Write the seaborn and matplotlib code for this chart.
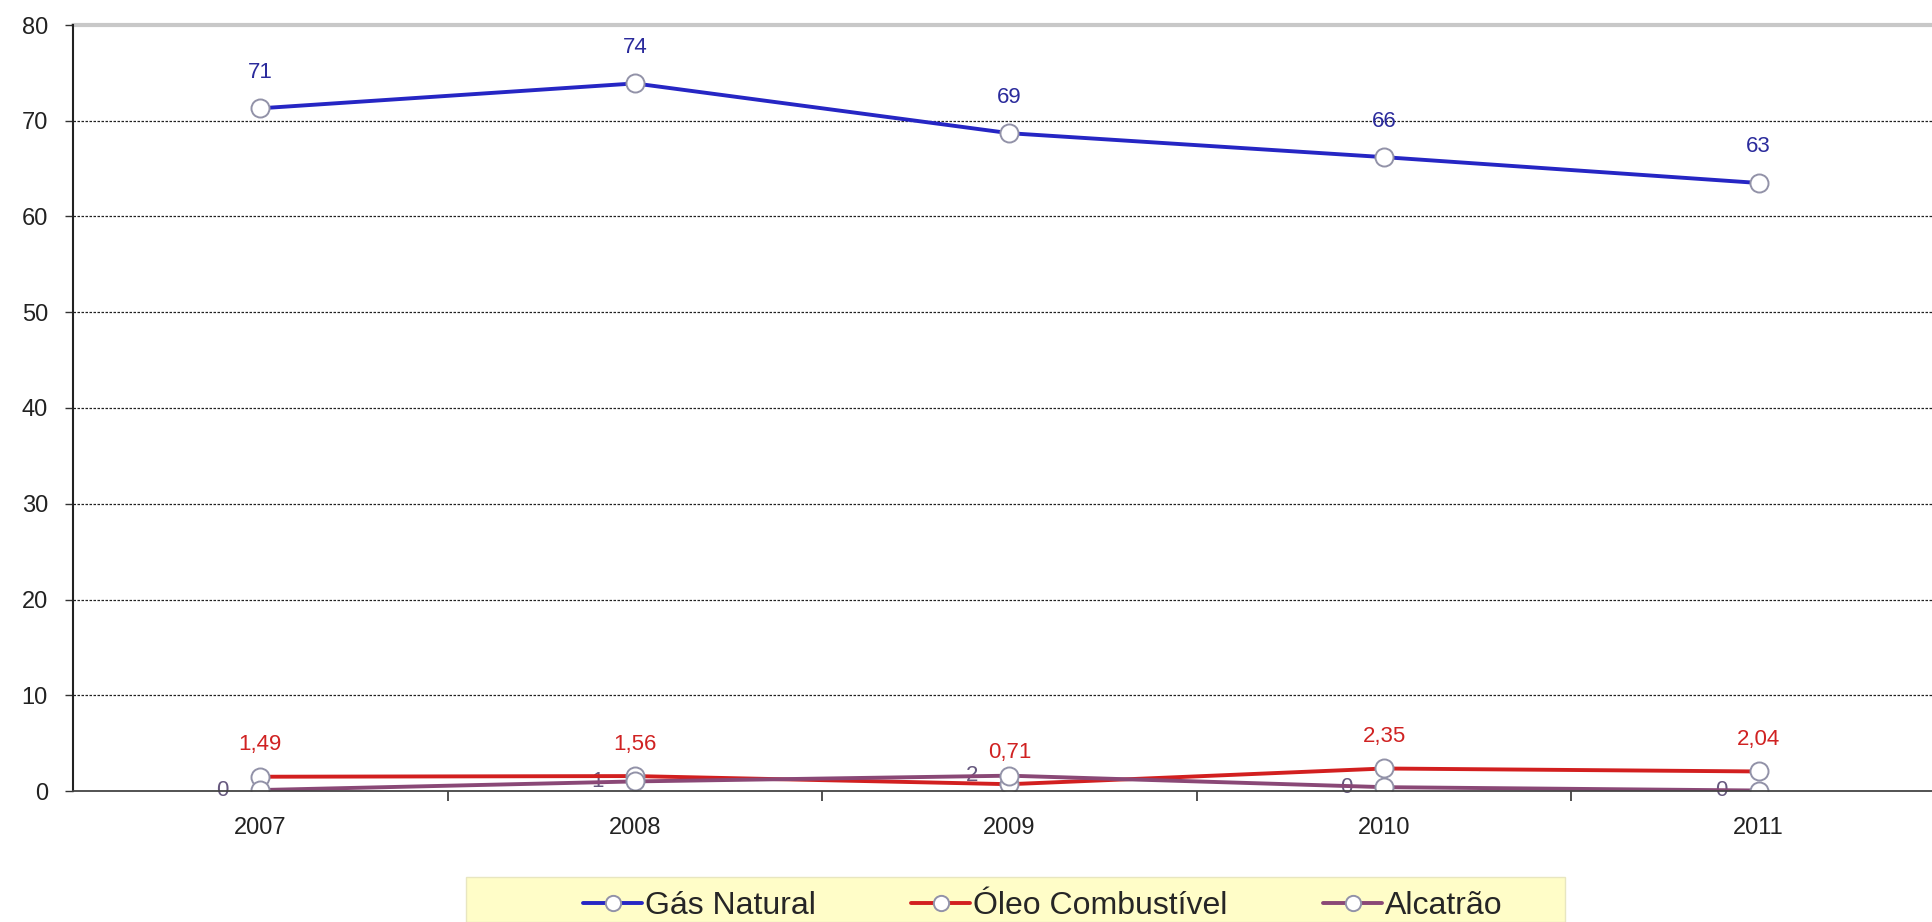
import matplotlib
matplotlib.use('Agg')
import matplotlib.pyplot as plt
from matplotlib.patches import Rectangle
import seaborn as sns
import pandas as pd

# ---- data ----
years = ['2007', '2008', '2009', '2010', '2011']
gas_natural = [71.3, 73.9, 68.7, 66.2, 63.5]
gas_labels = ['71', '74', '69', '66', '63']
oleo = [1.49, 1.56, 0.71, 2.35, 2.04]
oleo_labels = ['1,49', '1,56', '0,71', '2,35', '2,04']
alcatrao = [0.1, 1.0, 1.6, 0.4, 0.05]
alcatrao_labels = ['0', '1', '2', '0', '0']
series_names = ['Gás Natural', 'Óleo Combustível', 'Alcatrão']
yticks = [0, 10, 20, 30, 40, 50, 60, 70, 80]

line_colors = ['#2626c4', '#d21f1f', '#8a4876']
label_colors = ['#2b2b9c', '#d02222', '#66587e']

sns.set_theme(style='white')
plt.rcParams['font.family'] = ['Liberation Sans', 'DejaVu Sans']

W, H = 1933, 922
fig = plt.figure(figsize=(W / 100, H / 100), dpi=100)
ax_left, ax_right = 73, 1946
ax_bottom, ax_top = 131, 897
ax = fig.add_axes([ax_left / W, ax_bottom / H, (ax_right - ax_left) / W, (ax_top - ax_bottom) / H])

all_values = [gas_natural, oleo, alcatrao]
rows = []
for name, vals in zip(series_names, all_values):
    for i, v in enumerate(vals):
        rows.append({'idx': i, 'value': v, 'series': name})
df = pd.DataFrame(rows)

sns.lineplot(data=df, x='idx', y='value', hue='series', hue_order=series_names,
             palette=dict(zip(series_names, line_colors)), marker='o', markersize=13,
             markerfacecolor='white', markeredgecolor='#9292a8', markeredgewidth=1.4,
             linewidth=2.8, legend=False, ax=ax, sort=False)

# data labels
for i in range(len(years)):
    ax.annotate(gas_labels[i], (i, gas_natural[i]), xytext=(0, 26), textcoords='offset points',
                ha='center', va='center', fontsize=16, color=label_colors[0])
    ax.annotate(oleo_labels[i], (i, oleo[i]), xytext=(0, 23), textcoords='offset points',
                ha='center', va='center', fontsize=16, color=label_colors[1])
    ax.annotate(alcatrao_labels[i], (i, alcatrao[i]), xytext=(-27, 0), textcoords='offset points',
                ha='center', va='center', fontsize=16, color=label_colors[2], zorder=1)

ax.set_xlim(-0.5, 4.5)
ax.set_ylim(0, 80)
ax.set_yticks(yticks)
ax.set_yticklabels([str(t) for t in yticks], fontsize=17, color='#222222')
ax.set_xticks(range(len(years)))
ax.set_xticklabels(years, fontsize=17, color='#222222')
ax.set_xticks([0.5, 1.5, 2.5, 3.5], minor=True)
ax.tick_params(axis='x', which='major', length=0, pad=19)
ax.tick_params(axis='x', which='minor', length=7, width=1.2, color='#333333', direction='out', bottom=True)
ax.tick_params(axis='y', which='major', length=6, width=1.0, color='#333333', direction='out', left=True, pad=12)
ax.set_xlabel('')
ax.set_ylabel('')

for y in yticks[1:-1]:
    ax.axhline(y, color='#222222', lw=0.9, ls=(0, (2, 1.2)), zorder=0)
ax.axhline(80, color='#c8c8c8', lw=3, zorder=0, clip_on=False)

for s in ['top', 'right']:
    ax.spines[s].set_visible(False)
ax.spines['left'].set_color('#222222')
ax.spines['left'].set_linewidth(1.5)
ax.spines['bottom'].set_color('#444444')
ax.spines['bottom'].set_linewidth(1.3)

# legend box
fig.patches.append(Rectangle((466 / W, 0), (1565 - 466) / W, (922 - 877) / H,
                             transform=fig.transFigure, facecolor='#fffdc8',
                             edgecolor='#e8e6c0', lw=1.0, zorder=0))

handles = ax.get_lines()[:3]
leg = fig.legend(handles=handles, labels=series_names, loc='center left',
                 bbox_to_anchor=(583 / W, 1 - 906 / H), ncol=3, frameon=False,
                 prop={'size': 23}, handlelength=1.85, handletextpad=0.08,
                 columnspacing=3.0, borderpad=0, borderaxespad=0)
for h in leg.legend_handles:
    h.set_markersize(11)

fig.savefig('out.png', dpi=100)
